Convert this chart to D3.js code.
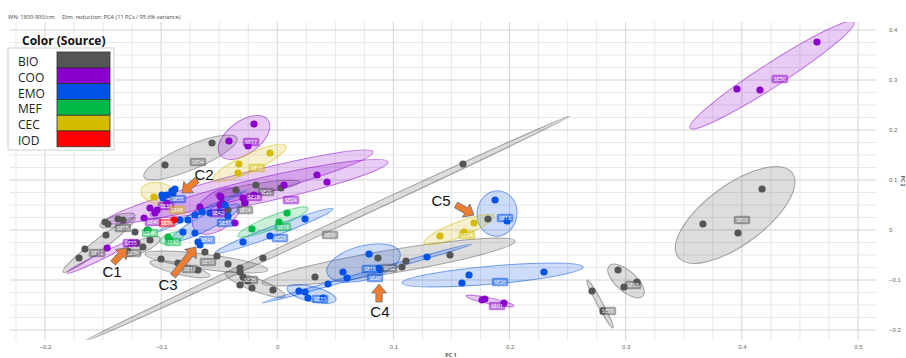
<!DOCTYPE html>
<html><head><meta charset="utf-8">
<script src="https://cdn.jsdelivr.net/npm/d3@7"></script>
<style>body{margin:0;background:#fff}svg{display:block}</style>
</head><body>
<script>
// ---------- data ----------
const sourceNames = ["BIO","COO","EMO","MEF","CEC","IOD"];
const sourceColors = ["#555555","#8a00cc","#0052e6","#00b946","#d4bb00","#ff0000"];
const xTicks = [-0.2,-0.1,0,0.1,0.2,0.3,0.4,0.5];
const yTicks = [-0.2,-0.1,0,0.1,0.2,0.3,0.4];
const headerTexts = ["WN: 1800-900/cm","Dim. reduction: PCA (11 PCs / 95.6% variance)"];

// groups: id, points [pc1,pc2], ellipse [x1,y1,x2,y2,ratio] (major-axis ends), label position
const bioGroups = [
 {id:"SE03", pts:[[0.3665,0.012],[0.3967,-0.006],[0.4174,0.082]], ell:[0.345,-0.054,0.4434,0.114,0.42], lab:[0.4001,0.02]},
 {id:"SE05", pts:[[0.2934,-0.08],[0.2985,-0.114],[0.3097,-0.104]], ell:[0.2856,-0.072,0.3149,-0.132,0.45], lab:[0.3063,-0.11]},
 {id:"SE08", pts:[[0.271,-0.122],[0.2805,-0.162]], ell:[0.2667,-0.1,0.2891,-0.196,0.1], lab:[0.2847,-0.162]},
 {id:"SE06", pts:[[0.1599,0.132],[-0.0321,-0.076]], ell:[-0.1656,-0.222,0.252,0.228,0.012], lab:[0.0454,-0.01]},
 {id:"SE02", pts:[[0.0325,-0.094],[0.0867,-0.056],[0.1108,-0.062],[0.1074,-0.074],[0.1487,-0.05]], ell:[-0.0132,-0.106,0.2047,-0.022,0.09], lab:[0.0962,-0.076]},
 {id:"SE10", pts:[[-0.1001,-0.058],[-0.0623,-0.044],[-0.0519,-0.052],[-0.0424,-0.068],[-0.0123,-0.056]], ell:[-0.1139,-0.048,-0.008,-0.08,0.12], lab:[-0.0597,-0.064]},
 {id:"SE13", pts:[[-0.0855,-0.066],[-0.0683,-0.08]], ell:[-0.1096,-0.064,-0.058,-0.092,0.18], lab:[-0.0752,-0.078]},
 {id:"SE25", pts:[[-0.0321,-0.084],[-0.0295,-0.094],[-0.0252,-0.102],[-0.0321,-0.11],[-0.0218,-0.116],[-0.0037,-0.12]], ell:[-0.045,-0.086,0.0066,-0.132,0.2], lab:[-0.0235,-0.1]},
 {id:"SE12", pts:[[-0.1707,-0.056],[-0.1656,-0.038],[-0.1475,-0.01],[-0.1458,0.012],[-0.1329,0.02]], ell:[-0.1845,-0.084,-0.1225,0.024,0.13], lab:[-0.1552,-0.046]},
 {id:"SE15", pts:[[-0.1483,0.016],[-0.1371,0.022]], ell:[-0.1527,0.008,-0.1225,0.03,0.3], lab:[-0.1329,0.004]},
 {id:"SE36", pts:[[-0.1286,-0.042],[-0.1208,-0.026],[-0.1157,-0.034],[-0.1096,-0.02],[-0.1225,-0.004],[-0.112,0.0]], ell:[-0.1337,-0.05,-0.101,-0.016,0.3], lab:[-0.1242,-0.046]},
 {id:"SE04", pts:[[-0.0967,0.13],[-0.0562,0.174]], ell:[-0.1148,0.106,-0.0347,0.184,0.24], lab:[-0.0683,0.136]},
 {id:"SE21", pts:[[-0.0356,0.08],[-0.0184,0.09],[0.0032,0.084]], ell:[-0.0536,0.07,0.0195,0.096,0.12], lab:[-0.0097,0.076]},
 {id:"SE14", pts:[[-0.0424,0.04],[-0.028,0.054]], ell:null, lab:[-0.0278,0.04]},
 {id:"SE11", pts:[[0.1814,0.022]], ell:null, lab:null}
];
const cooGroups = [
 {id:"SE50", pts:[[0.3958,0.282],[0.4156,0.28],[0.4647,0.376]], ell:[0.3553,0.204,0.4965,0.416,0.12], lab:[0.4327,0.302]},
 {id:"SE61", pts:[[0.1763,-0.14],[0.1788,-0.138],[0.1952,-0.146]], ell:[0.1625,-0.132,0.2038,-0.152,0.12], lab:[0.1892,-0.152]},
 {id:"SE17", pts:[[-0.0201,0.212],[-0.0416,0.178],[-0.0252,0.168]], ell:[-0.0493,0.15,-0.008,0.22,0.55], lab:[-0.0226,0.176]},
 {id:"SE24", pts:[[0.0058,0.09],[0.0342,0.11],[0.0428,0.096],[-0.0485,0.066]], ell:[-0.1483,0.016,0.0824,0.156,0.09], lab:[0.0118,0.06]},
 {id:"SE29", pts:[[-0.0295,0.064],[-0.0201,0.07],[-0.0493,0.05]], ell:[-0.1096,0.03,0.0953,0.136,0.1], lab:[-0.0201,0.066]},
 {id:"SE42", pts:[[-0.0493,0.068],[-0.0476,0.054],[-0.0364,0.014],[-0.0278,0.054],[-0.0666,0.046]], ell:[-0.0709,0.0,-0.0321,0.076,0.6], lab:[-0.0511,0.034]},
 {id:"SE35", pts:[[-0.1465,-0.036],[-0.126,-0.026]], ell:[-0.1811,-0.086,-0.1225,-0.02,0.08], lab:[-0.126,-0.026]},
 {id:"SE40", pts:[[-0.1147,0.024],[-0.1053,0.034],[-0.1096,0.044]], ell:null, lab:[-0.107,0.016]},
 {id:"SE33", pts:[[-0.1036,0.04],[-0.095,0.054]], ell:null, lab:[-0.0958,0.048]}
];
const emoGroups = [
 {id:"SE12", pts:[[0.1875,0.06],[0.1978,0.018]], ell:[0.1918,0.078,0.1866,-0.012,0.88], lab:[0.1961,0.024]},
 {id:"SE19", pts:[[0.079,-0.048],[0.0566,-0.084],[0.0601,-0.096],[0.0876,-0.076]], ell:[0.0428,-0.086,0.1057,-0.046,0.45], lab:[0.0798,-0.078]},
 {id:"SE20", pts:[[0.0239,-0.124],[0.0437,-0.108],[0.0885,-0.08],[0.1289,-0.054]], ell:[-0.0132,-0.146,0.1676,-0.028,0.02], lab:[0.0841,-0.096]},
 {id:"SE33", pts:[[0.0187,-0.122],[0.0264,-0.136],[0.0394,-0.136]], ell:[0.0084,-0.116,0.0506,-0.14,0.3], lab:[0.0368,-0.138]},
 {id:"SE26", pts:[[0.1651,-0.09],[0.159,-0.106],[0.2296,-0.084]], ell:[0.1074,-0.106,0.2633,-0.074,0.1], lab:[0.1918,-0.104]},
 {id:"SE23", pts:[[-0.0295,-0.024],[-0.0063,-0.012],[0.0239,0.022]], ell:[-0.0536,-0.046,0.048,0.042,0.08], lab:[0.0023,-0.016]},
 {id:"SE41", pts:[[-0.0838,0.02],[-0.0769,0.02],[-0.0709,0.03],[-0.0648,0.036],[-0.0579,0.034],[-0.0812,-0.004],[-0.0709,-0.006],[-0.0683,-0.024],[-0.0666,-0.03]], ell:[-0.0907,-0.02,-0.0321,0.05,0.2], lab:[-0.0605,-0.02]},
 {id:"SE38", pts:[[-0.0993,0.07],[-0.095,0.07],[-0.0907,0.078],[-0.0898,0.074],[-0.0984,0.064],[-0.0881,0.082]], ell:null, lab:[-0.0855,0.062]},
 {id:"SE37", pts:[[-0.0493,0.036],[-0.045,0.05],[-0.0424,0.028]], ell:null, lab:[-0.045,0.014]},
 {id:"SE44", pts:[], ell:[-0.1036,-0.004,-0.0261,0.08,0.03], lab:null}
];
const mefGroups = [
 {id:"SE18", pts:[[-0.0218,0.002],[0.0015,0.016],[0.0084,0.034]], ell:[-0.0338,-0.012,0.0264,0.044,0.17], lab:[0.0049,0.006]},
 {id:"SE43", pts:[[-0.0941,-0.014],[-0.0924,-0.02]], ell:[-0.101,-0.024,-0.0803,-0.008,0.4], lab:[-0.0898,-0.024]},
 {id:"SE46", pts:[[-0.1112,0.0]], ell:null, lab:[-0.1096,-0.006]}
];
const cecGroups = [
 {id:"SE16", pts:[[-0.033,0.132],[-0.0338,0.114],[-0.0063,0.154]], ell:[-0.0554,0.1,0.0075,0.168,0.22], lab:[-0.0175,0.124]},
 {id:"SE14", pts:[[0.1401,-0.012],[0.1608,-0.004],[0.1694,0.014]], ell:[0.1263,-0.026,0.1866,0.028,0.2], lab:[0.1633,-0.01]},
 {id:"SE48", pts:[[-0.1062,0.066]], ell:[-0.1173,0.08,-0.0872,0.066,0.6], lab:[-0.0864,0.04]}
];
const iodGroups = [
 {id:"SE39", pts:[[-0.0889,0.02]], ell:null, lab:[-0.095,0.014]}
];
// annotation arrows: tail [pc1,pc2], head [pc1,pc2], text position
const arrowNames = ["C1","C2","C3","C4","C5"];
const arrowTails = [[-0.1414,-0.066],[-0.0691,0.1],[-0.0898,-0.092],[0.0876,-0.144],[0.1539,0.05]];
const arrowHeads = [[-0.1294,-0.036],[-0.0821,0.074],[-0.07,-0.034],[0.0876,-0.108],[0.1694,0.03]];
const arrowTexts = [[-0.1423,-0.084],[-0.0631,0.11],[-0.0941,-0.11],[0.0884,-0.164],[0.141,0.058]];

// ---------- drawing ----------
const W = 906, H = 358;
const svg = d3.select("body").append("svg").attr("width",W).attr("height",H)
  .style("font-family","'Open Sans', 'DejaVu Sans', sans-serif");
svg.append("rect").attr("width",W).attr("height",H).attr("fill","#fff");

const x = d3.scaleLinear().domain([-0.2,0.5]).range([45,858]);
const y = d3.scaleLinear().domain([-0.2,0.4]).range([330,30]);
const plotL = 10, plotR = 876, plotT = 22, plotB = 340;

// grid
const g = svg.append("g");
const isMajor = d => Math.abs(Math.round(d*10)-d*10)<1e-6;
const minorX = d3.range(-0.225,0.5251,0.025).filter(v=>x(v)>=plotL && x(v)<=plotR);
const minorY = d3.range(-0.2,0.4251,0.025).filter(v=>y(v)>=plotT && y(v)<=plotB);
g.selectAll("line.mx").data(minorX).join("line")
  .attr("x1",d=>x(d)).attr("x2",d=>x(d)).attr("y1",plotT).attr("y2",plotB)
  .attr("stroke",d=>isMajor(d)?"#d4d4d4":"#e9e9e9").attr("stroke-width",1);
g.selectAll("line.my").data(minorY).join("line")
  .attr("y1",d=>y(d)).attr("y2",d=>y(d)).attr("x1",plotL).attr("x2",plotR)
  .attr("stroke",d=>isMajor(d)?"#d4d4d4":"#e9e9e9").attr("stroke-width",1);

// axes labels
const xa = svg.append("g").attr("transform",`translate(0,${plotB+1})`)
  .call(d3.axisBottom(x).tickValues(xTicks).tickSize(0).tickFormat(d=>d===0?"0":d3.format(".1f")(d)));
xa.select(".domain").remove();
xa.selectAll("text").attr("font-size",6).attr("fill","#666").attr("dy","0.9em")
  .style("font-family","'Liberation Sans Narrow','Liberation Sans',sans-serif");
const ya = svg.append("g").attr("transform",`translate(889,0)`)
  .call(d3.axisRight(y).tickValues(yTicks).tickSize(0).tickFormat(d=>d===0?"0":d3.format(".1f")(d)));
ya.select(".domain").remove();
ya.selectAll("text").attr("font-size",6).attr("fill","#666").attr("x",0)
  .style("font-family","'Liberation Sans Narrow','Liberation Sans',sans-serif");
svg.append("text").attr("x",451).attr("y",357).attr("text-anchor","middle")
  .attr("font-size",5.5).attr("font-weight","bold").attr("fill","#555").text("PC 1");
svg.append("text").attr("transform","translate(901,181) rotate(90)").attr("text-anchor","middle")
  .attr("font-size",5).attr("font-weight","bold").attr("fill","#555").text("PC 2");

// header
svg.append("text").attr("x",8).attr("y",19).attr("font-size",5.6).attr("fill","#444").text(headerTexts[0]);
svg.append("text").attr("x",62).attr("y",19).attr("font-size",5.6).attr("fill","#444").text(headerTexts[1]);

const allGroups = [bioGroups,cooGroups,emoGroups,mefGroups,cecGroups,iodGroups];
svg.append("clipPath").attr("id","pc").append("rect")
  .attr("x",plotL).attr("y",plotT).attr("width",plotR-plotL).attr("height",plotB-plotT);
const layerE = svg.append("g").attr("clip-path","url(#pc)");
const layerP = svg.append("g").attr("clip-path","url(#pc)");
const layerL = svg.append("g").attr("clip-path","url(#pc)");

// ellipses
allGroups.forEach((groups,si)=>{
  const col = sourceColors[si];
  groups.filter(gr=>gr.ell).forEach(gr=>{
    const [x1,y1,x2,y2,r] = gr.ell;
    const px1=x(x1),py1=y(y1),px2=x(x2),py2=y(y2);
    const cx=(px1+px2)/2, cy=(py1+py2)/2;
    const a=Math.hypot(px2-px1,py2-py1)/2, b=Math.max(a*r,1.6);
    const ang=Math.atan2(py2-py1,px2-px1)*180/Math.PI;
    layerE.append("ellipse").attr("cx",cx).attr("cy",cy).attr("rx",a).attr("ry",b)
      .attr("transform",`rotate(${ang},${cx},${cy})`)
      .attr("fill",col).attr("fill-opacity",0.2)
      .attr("stroke",col).attr("stroke-opacity",0.5).attr("stroke-width",1);
  });
});
// points
allGroups.forEach((groups,si)=>{
  const col = sourceColors[si];
  groups.forEach(gr=>{
    layerP.selectAll(null).data(gr.pts).join("circle")
      .attr("cx",d=>x(d[0])).attr("cy",d=>y(d[1])).attr("r",3.6).attr("fill",col);
  });
});
// sample labels
allGroups.forEach((groups,si)=>{
  const col = sourceColors[si];
  groups.filter(gr=>gr.lab).forEach(gr=>{
    const lx=x(gr.lab[0]), ly=y(gr.lab[1]);
    const gg = layerL.append("g");
    gg.append("rect").attr("x",lx-8).attr("y",ly-4).attr("width",16).attr("height",8).attr("rx",1.5)
      .attr("fill",col).attr("fill-opacity",0.5).attr("stroke",col).attr("stroke-opacity",0.4).attr("stroke-width",0.6);
    gg.append("text").attr("x",lx).attr("y",ly+2).attr("text-anchor","middle")
      .attr("font-size",5.2).attr("fill","#fff").text(gr.id);
  });
});

// legend
const lg = svg.append("g");
lg.append("rect").attr("x",8).attr("y",48).attr("width",106).attr("height",102)
  .attr("fill","#fff").attr("stroke","#d0d0d0").attr("stroke-width",1);
lg.append("text").attr("x",22).attr("y",45).attr("font-size",12).attr("font-weight","bold")
  .attr("fill","#111").text("Color (Source)");
sourceNames.forEach((s,i)=>{
  lg.append("text").attr("x",18).attr("y",66+i*15.8).attr("font-size",12).attr("fill","#222").text(s);
  lg.append("rect").attr("x",57).attr("y",52+i*15.8).attr("width",53).attr("height",15.8)
    .attr("fill",sourceColors[i]).attr("stroke","#333").attr("stroke-width",0.8);
});

// arrows
arrowNames.forEach((nm,i)=>{
  const tx=x(arrowTails[i][0]), ty=y(arrowTails[i][1]);
  const hx=x(arrowHeads[i][0]), hy=y(arrowHeads[i][1]);
  const L=Math.hypot(hx-tx,hy-ty), ang=Math.atan2(hy-ty,hx-tx)*180/Math.PI;
  const hl=Math.min(9,L*0.5), sw=3.2, hw=7.5;
  const pts=[[0,-sw],[L-hl,-sw],[L-hl,-hw],[L,0],[L-hl,hw],[L-hl,sw],[0,sw]];
  svg.append("polygon").attr("points",pts.map(p=>p.join(",")).join(" "))
    .attr("transform",`translate(${tx},${ty}) rotate(${ang})`)
    .attr("fill","#ED7D31").attr("stroke","#5b6b7b").attr("stroke-width",0.7);
  svg.append("text").attr("x",x(arrowTexts[i][0])).attr("y",y(arrowTexts[i][1])).attr("dy","0.35em")
    .attr("text-anchor","middle").attr("font-size",15).attr("fill","#111")
    .style("font-family","'Liberation Sans',Arial,sans-serif").text(nm);
});
</script>
</body></html>
